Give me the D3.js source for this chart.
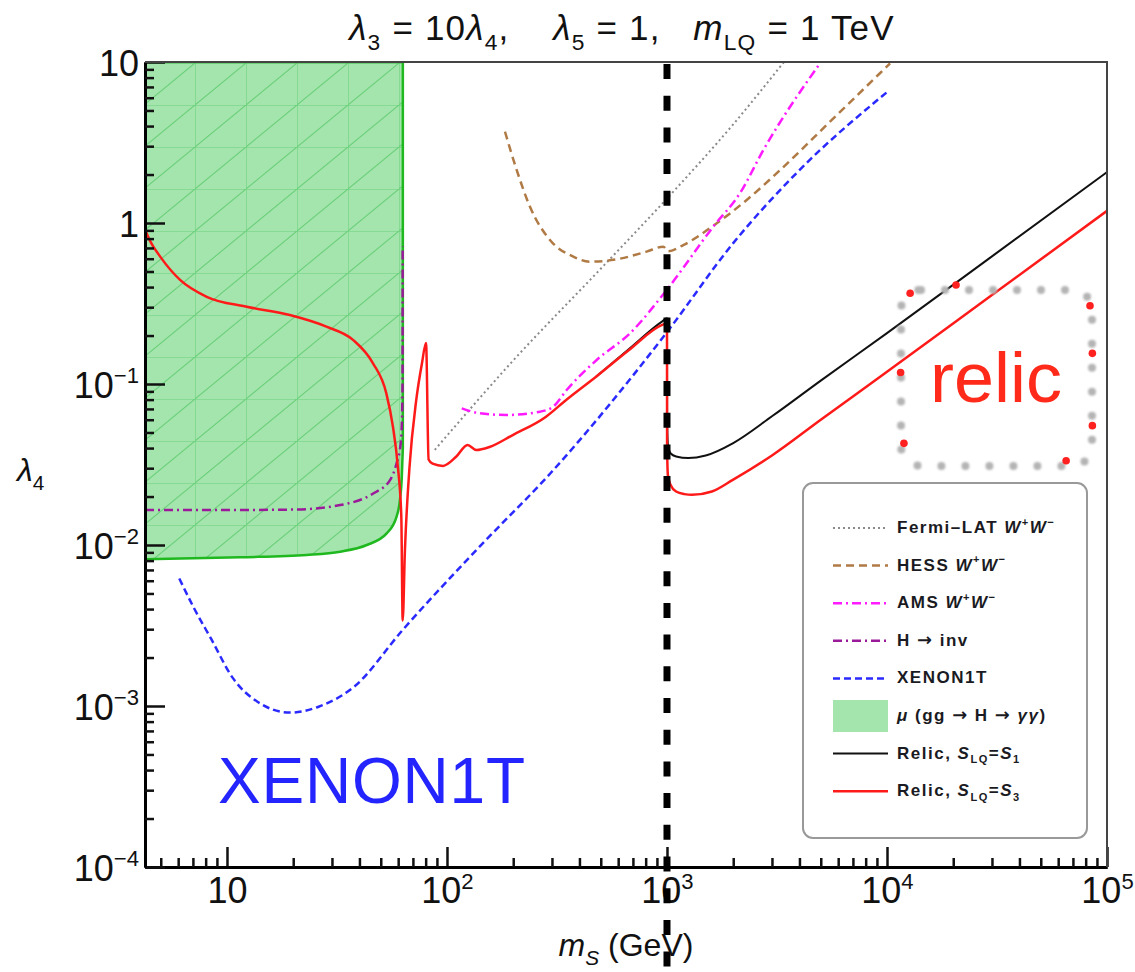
<!DOCTYPE html>
<html>
<head>
<meta charset="utf-8">
<script src="https://cdn.jsdelivr.net/npm/d3@7"></script>
<style>
  body { margin: 0; background: #fff; }
  text { font-family: "Liberation Sans", Arial, sans-serif; white-space: pre; }
</style>
</head>
<body>
<svg id="chart" width="1135" height="972"></svg>
<script>
// values: mass m_S in GeV, coupling lambda_4
var massTicks = [10, 100, 1000, 10000, 100000];
var lamTicks = [1e-4, 1e-3, 1e-2, 1e-1, 1, 10];

var relicS3Mass = [4.24, 4.5, 4.97, 6.12, 8.09, 12.3, 19.3, 28.3, 37.4, 46.1, 53.0, 56.8, 59.8, 62.0, 62.9, 64.4, 67.5, 72.5, 77, 80.3, 82.5, 86, 96, 110, 124, 136, 156, 199, 282, 348, 476, 672, 952, 1000, 1001, 1010, 1040, 1100, 1200, 1300, 1600, 2000, 3000, 5000, 10000, 30000, 100000];
var relicS3Lam  = [0.91, 0.76, 0.618, 0.443, 0.348, 0.302, 0.268, 0.227, 0.188, 0.1345, 0.0875, 0.0543, 0.0306, 0.015, 0.0034, 0.0093, 0.03, 0.0796, 0.135, 0.18, 0.034, 0.032, 0.031, 0.0353, 0.0418, 0.0389, 0.0406, 0.0482, 0.0627, 0.0796, 0.111, 0.1626, 0.233, 0.238, 0.04, 0.027, 0.0235, 0.0215, 0.0207, 0.0205, 0.0215, 0.0255, 0.036, 0.060, 0.119, 0.357, 1.19];

var relicS1Mass = [476, 672, 952, 1000, 1001, 1010, 1040, 1100, 1250, 1500, 2000, 3000, 5000, 10000, 30000, 100000];
var relicS1Lam  = [0.111, 0.165, 0.245, 0.256, 0.06, 0.042, 0.037, 0.0355, 0.0347, 0.036, 0.043, 0.063, 0.105, 0.207, 0.62, 2.07];

var fermiMass = [88, 200, 500, 1000, 2000, 3400];
var fermiLam  = [0.039, 0.14, 0.52, 1.42, 4.1, 10];

var hessMass = [183.5, 207.5, 238.4, 293.8, 375, 447, 590, 808, 962, 1013, 1186, 1683, 2303, 3266, 5508, 10330];
var hessLam  = [3.69, 2.13, 1.26, 0.784, 0.618, 0.575, 0.595, 0.664, 0.713, 0.667, 0.73, 0.996, 1.39, 2.13, 4.26, 9.8];

var amsMass = [116.7, 141, 186.7, 264.6, 304, 350, 479, 679, 997, 1622, 2146, 2742, 4956];
var amsLam  = [0.0706, 0.0658, 0.0642, 0.0673, 0.0723, 0.0918, 0.141, 0.2065, 0.384, 0.948, 1.53, 2.84, 9.8];

var hinvMass = [4.24, 10, 20, 32.7, 46.2, 55.1, 59.0, 61.5, 62.3, 62.8, 62.9];
var hinvLam  = [0.0165, 0.0165, 0.0166, 0.0177, 0.0209, 0.0253, 0.0322, 0.042, 0.055, 0.1, 0.72];

var xenonMass = [6.07, 7.05, 8.49, 10.6, 13.8, 19.3, 26.1, 37.9, 62.8, 141, 296, 1000, 2000, 4000, 10000];
var xenonLam  = [0.0062, 0.0041, 0.0026, 0.0015, 0.00106, 0.00091, 0.00099, 0.00132, 0.00296, 0.0098, 0.028, 0.21, 0.75, 2.13, 6.5];

// lower edge of the excluded green band (upper edge is the top of the frame)
var diphotonMass = [4.24, 11.5, 23.0, 32.7, 43.2, 53.2, 59.0, 61.1, 62.3, 63.0];
var diphotonLow  = [0.00815, 0.00839, 0.00867, 0.00908, 0.0100, 0.0118, 0.015, 0.019, 0.026, 0.04];

var relicDotMass = [12740, 20600, 83700, 85800, 85800, 65200, 11940, 11530];
var relicDotLam  = [0.366, 0.412, 0.306, 0.155, 0.0551, 0.0334, 0.0428, 0.118];

var legendLabels = [
  [["Fermi\u2013LAT "], ["W", "i"], ["+", "sup"], ["W", "i"], ["\u2212", "sup"]],
  [["HESS "], ["W", "i"], ["+", "sup"], ["W", "i"], ["\u2212", "sup"]],
  [["AMS "], ["W", "i"], ["+", "sup"], ["W", "i"], ["\u2212", "sup"]],
  [["H "], ["\u2192", "arrow"], [" inv"]],
  [["XENON1T"]],
  [["\u03bc", "i"], [" (gg "], ["\u2192", "arrow"], [" H "], ["\u2192", "arrow"], [" "], ["\u03b3\u03b3", "i"], [")"]],
  [["Relic, "], ["S", "i"], ["LQ", "sub"], ["="], ["S", "i"], ["1", "sub"]],
  [["Relic, "], ["S", "i"], ["LQ", "sub"], ["="], ["S", "i"], ["3", "sub"]]
];

var styles = {
  fermi: {stroke: "#8a8a8a", width: 2, dash: "2,3"},
  hess:  {stroke: "#b07a45", width: 2.5, dash: "8,5"},
  ams:   {stroke: "#ff1aff", width: 2.5, dash: "9,4,2,4"},
  hinv:  {stroke: "#9a1a9a", width: 2.5, dash: "9,4,2,4"},
  xenon: {stroke: "#2a2aff", width: 2.5, dash: "7,4"},
  green: {fill: "#a4e5ad", stroke: "#1fb81f"},
  s1:    {stroke: "#111111", width: 2, dash: null},
  s3:    {stroke: "#ff1a1a", width: 2.5, dash: null}
};
var legendKeys = ["fermi", "hess", "ams", "hinv", "xenon", "green", "s1", "s3"];

var svg = d3.select("#chart"),
  margin = {top: 62, right: 28, bottom: 105, left: 145},
  width = +svg.attr("width") - margin.left - margin.right,
  height = +svg.attr("height") - margin.top - margin.bottom;

var x = d3.scaleLog().domain([4.24, 1e5]).range([0, width]),
  y = d3.scaleLog().domain([1e-4, 10]).range([height, 0]);

// writes text made of plain / italic / sub / sup pieces
function rich(sel, segs, size) {
  var shift = 0;
  segs.forEach(function(s) {
    var kind = (s[1] || "").split(" ");
    var small = kind.indexOf("sub") >= 0 || kind.indexOf("sup") >= 0;
    var target = kind.indexOf("sub") >= 0 ? size * 0.28 : kind.indexOf("sup") >= 0 ? -size * 0.42 : 0;
    var ts = sel.append("tspan").text(s[0]).attr("dy", target - shift);
    shift = target;
    if (kind.indexOf("i") >= 0) ts.attr("font-style", "italic");
    if (small) ts.attr("font-size", size * 0.65);
    if (kind.indexOf("arrow") >= 0) ts.attr("font-family", "DejaVu Sans").attr("font-size", size * 1.05);
  });
}

var defs = svg.append("defs");
defs.append("clipPath").attr("id", "clip")
  .append("rect").attr("width", width).attr("height", height);

var mesh = defs.append("pattern")
  .attr("id", "mesh")
  .attr("patternUnits", "userSpaceOnUse")
  .attr("x", -1).attr("y", 1)
  .attr("width", 51).attr("height", 42);
mesh.append("rect").attr("width", 51).attr("height", 42).attr("fill", styles.green.fill);
mesh.append("path")
  .attr("d", "M0,42L51,0M0,0H51M0,0V42")
  .attr("stroke", "#6bd07a").attr("stroke-width", 1.1).attr("fill", "none");

defs.append("filter").attr("id", "soft")
  .append("feGaussianBlur").attr("stdDeviation", 1.1);

var focus = svg.append("g")
  .attr("transform", "translate(" + margin.left + "," + margin.top + ")");

var plot = focus.append("g").attr("clip-path", "url(#clip)");

var band = d3.area()
  .x(function(d) { return x(d[0]); })
  .y0(function(d) { return y(d[1]); })
  .y1(function() { return y(10); })
  .curve(d3.curveMonotoneX);

plot.append("path")
  .datum(d3.zip(diphotonMass, diphotonLow))
  .attr("d", band)
  .attr("fill", "url(#mesh)")
  .attr("stroke", styles.green.stroke)
  .attr("stroke-width", 2.5);

var line = d3.line()
  .x(function(d) { return x(d[0]); })
  .y(function(d) { return y(d[1]); })
  .curve(d3.curveMonotoneX);

var series = [
  ["fermi", fermiMass, fermiLam],
  ["hess", hessMass, hessLam],
  ["ams", amsMass, amsLam],
  ["hinv", hinvMass, hinvLam],
  ["xenon", xenonMass, xenonLam],
  ["s1", relicS1Mass, relicS1Lam],
  ["s3", relicS3Mass, relicS3Lam]
];

series.forEach(function(s) {
  var st = styles[s[0]];
  plot.append("path")
    .datum(d3.zip(s[1], s[2]))
    .attr("d", line)
    .attr("fill", "none")
    .attr("stroke", st.stroke)
    .attr("stroke-width", st.width)
    .attr("stroke-dasharray", st.dash)
    .attr("stroke-linejoin", "round");
});

// axes
var xAxis = focus.append("g")
  .attr("transform", "translate(0," + height + ")")
  .call(d3.axisBottom(x).tickValues(massTicks).tickSize(-20).tickSizeOuter(0).tickFormat(""));

var minorMass = [];
[1, 10, 100, 1000, 10000].forEach(function(p) {
  for (var k = 2; k <= 9; k++) if (p * k > 4.24) minorMass.push(p * k);
});
focus.append("g")
  .attr("transform", "translate(0," + height + ")")
  .call(d3.axisBottom(x).tickValues(minorMass).tickSize(-9).tickSizeOuter(0).tickFormat(""));

var yAxis = focus.append("g")
  .call(d3.axisLeft(y).tickValues(lamTicks).tickSize(-20).tickSizeOuter(0).tickFormat(""));

var minorLam = [];
[1e-4, 1e-3, 1e-2, 1e-1, 1].forEach(function(p) {
  for (var k = 2; k <= 9; k++) minorLam.push(p * k);
});
focus.append("g")
  .call(d3.axisLeft(y).tickValues(minorLam).tickSize(-9).tickSizeOuter(0).tickFormat(""));

focus.selectAll(".domain").attr("stroke", "#000").attr("stroke-width", 3);
focus.selectAll(".tick line").attr("stroke", "#111").attr("stroke-width", 2.5);

function decade(v) {
  var e = Math.round(Math.log10(v));
  if (e === 0) return [["1"]];
  if (e === 1) return [["10"]];
  return [["10"], [(e < 0 ? "\u2212" : "") + Math.abs(e), "sup"]];
}

xAxis.selectAll(".tick").each(function(v) {
  var t = d3.select(this).append("text")
    .attr("y", 36).attr("fill", "#111")
    .attr("font-size", 36).attr("text-anchor", "middle");
  rich(t, decade(v), 34);
});

yAxis.selectAll(".tick").each(function(v) {
  var t = d3.select(this).append("text")
    .attr("x", -6).attr("y", 13).attr("fill", "#111")
    .attr("font-size", 36).attr("text-anchor", "end");
  rich(t, decade(v), 34);
});

// frame top and right
focus.append("path")
  .attr("d", "M0,0H" + width + "V" + height)
  .attr("fill", "none").attr("stroke", "#444").attr("stroke-width", 2);

// m_LQ = 1 TeV marker
focus.append("line")
  .attr("x1", x(1000)).attr("x2", x(1000))
  .attr("y1", 2).attr("y2", +svg.attr("height") - margin.top)
  .attr("stroke", "#000").attr("stroke-width", 7)
  .attr("stroke-dasharray", "15,16.7");

// relic annotation box
var bx0 = x(11580), bx1 = x(85480), by0 = y(0.384), by1 = y(0.031);
focus.append("rect")
  .attr("x", bx0).attr("y", by0)
  .attr("width", bx1 - bx0).attr("height", by1 - by0)
  .attr("rx", 20)
  .attr("fill", "none").attr("stroke", "#b4b4b4").attr("stroke-width", 8)
  .attr("stroke-linecap", "round").attr("stroke-dasharray", "0,24")
  .attr("filter", "url(#soft)");

focus.selectAll(".relic-dot")
  .data(d3.zip(relicDotMass, relicDotLam))
  .enter().append("circle")
  .attr("class", "relic-dot")
  .attr("cx", function(d) { return x(d[0]); })
  .attr("cy", function(d) { return y(d[1]); })
  .attr("r", 3.8)
  .attr("fill", "#ff2020");

focus.append("text")
  .attr("x", x(15670)).attr("y", y(0.0776))
  .attr("font-family", "Lato, 'Noto Sans', sans-serif")
  .attr("font-size", 70).attr("fill", "#ff2a1a")
  .attr("textLength", 132).attr("lengthAdjust", "spacingAndGlyphs")
  .text("relic");

focus.append("text")
  .attr("x", x(9.1)).attr("y", y(0.00025))
  .attr("font-family", "Lato, 'Noto Sans', sans-serif")
  .attr("font-size", 64).attr("fill", "#2424ff")
  .attr("textLength", 307).attr("lengthAdjust", "spacing")
  .text("XENON1T");

// legend
var legend = svg.append("g").attr("transform", "translate(803,483)");
legend.append("rect")
  .attr("width", 284).attr("height", 355).attr("rx", 10)
  .attr("fill", "#fff").attr("stroke", "#999").attr("stroke-width", 2);

legendKeys.forEach(function(key, i) {
  var st = styles[key], yy = 45 + i * 37.6;
  if (key === "green") {
    legend.append("rect")
      .attr("x", 30).attr("y", yy - 16).attr("width", 55).attr("height", 32)
      .attr("fill", st.fill);
  } else {
    legend.append("line")
      .attr("x1", 30).attr("x2", 85).attr("y1", yy).attr("y2", yy)
      .attr("stroke", st.stroke).attr("stroke-width", st.width)
      .attr("stroke-dasharray", st.dash);
  }
  var t = legend.append("text")
    .attr("x", 94).attr("y", yy + 5)
    .attr("font-size", 17).attr("font-weight", "bold")
    .attr("letter-spacing", 1.5).attr("fill", "#1a1a22");
  rich(t, legendLabels[i], 17);
});

// title and axis titles
var title = svg.append("text")
  .attr("x", 622).attr("y", 40)
  .attr("font-size", 35).attr("letter-spacing", 1.2)
  .attr("text-anchor", "middle").attr("fill", "#111");
rich(title, [["\u03bb", "i"], ["3", "sub"], [" = 10"], ["\u03bb", "i"], ["4", "sub"], [",    "],
  ["\u03bb", "i"], ["5", "sub"], [" = 1,   "], ["m", "i"], ["LQ", "sub"], [" = 1 TeV"]], 35);

var xt = svg.append("text")
  .attr("x", 626).attr("y", 956)
  .attr("font-size", 32).attr("text-anchor", "middle").attr("fill", "#111");
rich(xt, [["m", "i"], ["S", "i sub"], [" (GeV)"]], 32);

var yt = svg.append("text")
  .attr("x", 17).attr("y", 481)
  .attr("font-size", 32).attr("fill", "#111");
rich(yt, [["\u03bb", "i"], ["4", "sub"]], 32);
</script>
</body>
</html>
